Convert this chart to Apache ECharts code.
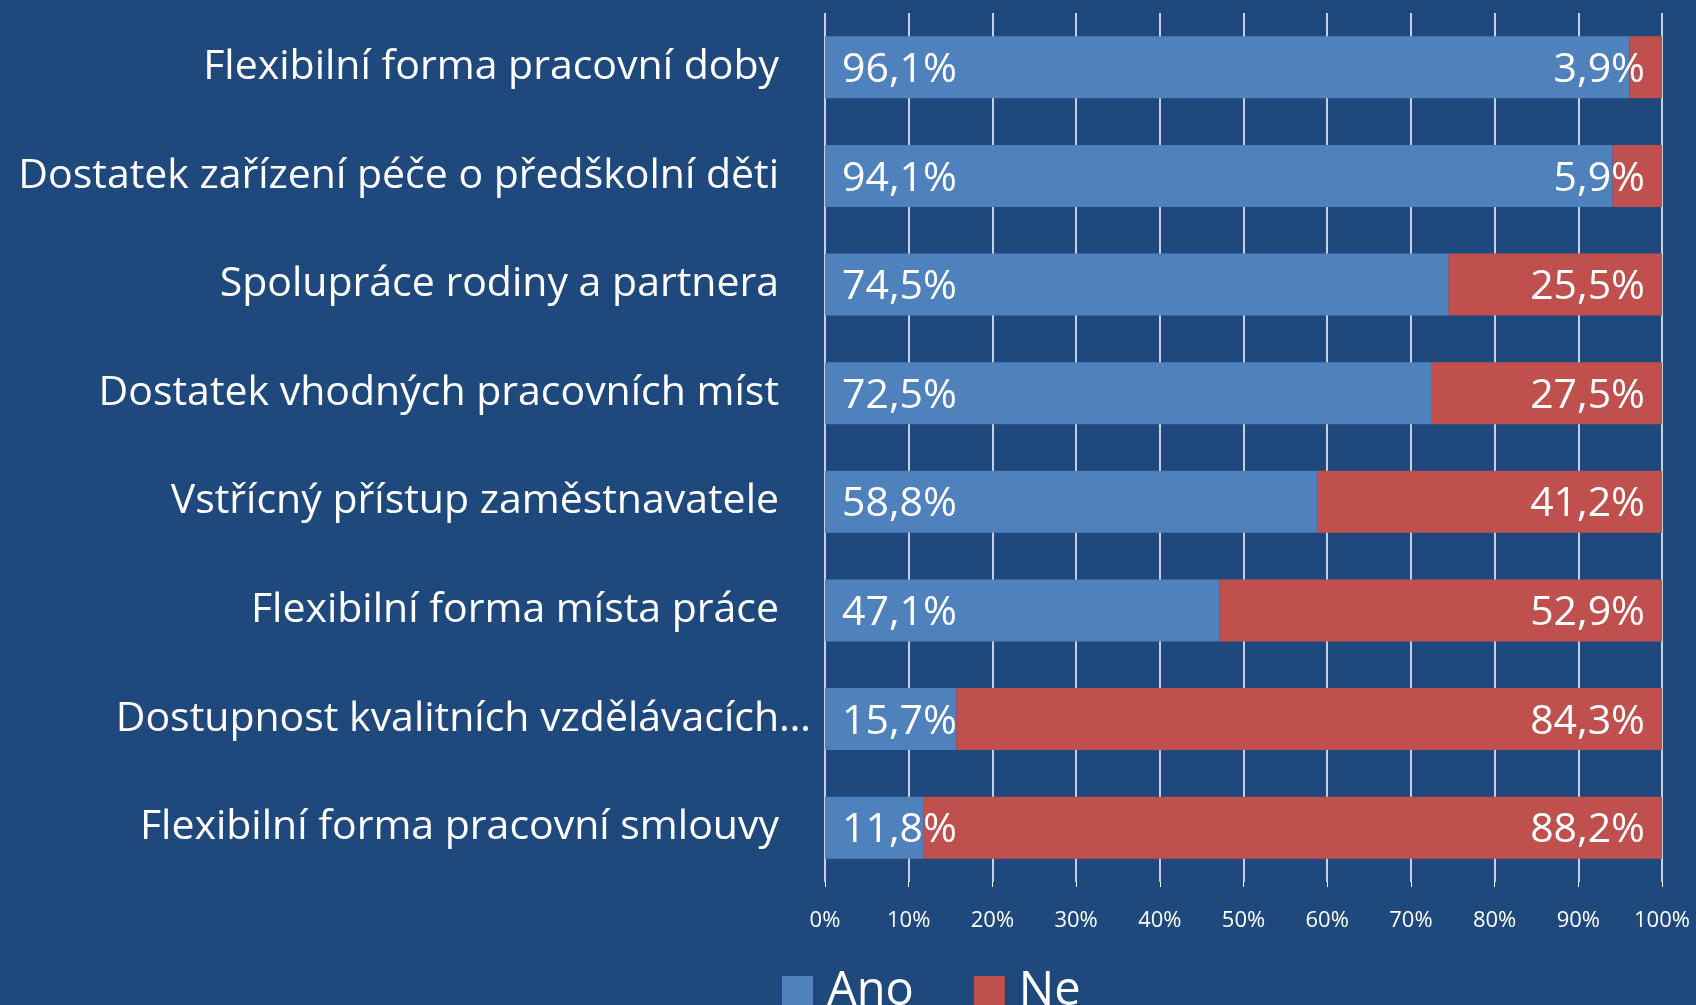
<!DOCTYPE html>
<html>
<head>
<meta charset="utf-8">
<script src="https://cdn.jsdelivr.net/npm/echarts@6/dist/echarts.min.js"></script>
<style>
  html, body { margin: 0; padding: 0; background: #1f497d; }
  #chart { width: 1696px; height: 1005px; }
</style>
</head>
<body>
<div id="chart"></div>
<script>
var categories = [
  'Flexibilní forma pracovní doby',
  'Dostatek zařízení péče o předškolní děti',
  'Spolupráce rodiny a partnera',
  'Dostatek vhodných pracovních míst',
  'Vstřícný přístup zaměstnavatele',
  'Flexibilní forma místa práce',
  'Dostupnost kvalitních vzdělávacích…',
  'Flexibilní forma pracovní smlouvy'
];
var ano = [96.1, 94.1, 74.5, 72.5, 58.8, 47.1, 15.7, 11.8];
var ne = [3.9, 5.9, 25.5, 27.5, 41.2, 52.9, 84.3, 88.2];

var fontName = 'Open Sans';

function pct(p) {
  return p.value.toFixed(1).replace('.', ',') + '%';
}

// the truncated label sits a little further right, as in the original
var yData = categories.map(function (c) {
  if (c.slice(-1) === '…') {
    return { value: c, textStyle: { padding: [6, -32, 0, 0] } };
  }
  return c;
});

var myChart = echarts.init(document.getElementById('chart'), null, { renderer: 'canvas' });

var option = {
  backgroundColor: '#1f497d',
  animation: false,
  textStyle: { fontFamily: fontName },
  grid: { left: 825, right: 34, top: 13, bottom: 123 },
  legend: {
    left: 777,
    top: 963,
    itemWidth: 31,
    itemHeight: 31,
    itemGap: 60,
    icon: 'rect',
    textStyle: { color: '#fff', fontSize: 47, fontFamily: fontName, padding: [0, 0, 0, 9] },
    data: ['Ano', 'Ne']
  },
  xAxis: {
    type: 'value',
    min: 0,
    max: 100,
    interval: 10,
    axisLine: { show: false },
    axisTick: { show: true, length: 5, lineStyle: { color: '#fff' } },
    splitLine: { show: true, lineStyle: { color: '#fff', width: 1.5 } },
    axisLabel: { color: '#fff', fontSize: 22, margin: 28, formatter: '{value}%', fontFamily: fontName }
  },
  yAxis: {
    type: 'category',
    inverse: true,
    data: yData,
    axisLine: { show: false },
    axisTick: { show: false },
    axisLabel: { color: '#fff', fontSize: 41, margin: 46, padding: [6, 0, 0, 0], fontFamily: fontName }
  },
  series: [
    {
      name: 'Ano',
      type: 'bar',
      stack: 'total',
      data: ano,
      barWidth: '57%',
      itemStyle: { color: '#4f81bd' },
      label: {
        show: true,
        position: 'insideLeft',
        distance: 17,
        offset: [0, 3],
        color: '#fff',
        fontSize: 41,
        fontFamily: fontName,
        formatter: pct
      }
    },
    {
      name: 'Ne',
      type: 'bar',
      stack: 'total',
      data: ne,
      itemStyle: { color: '#c0504d' },
      label: {
        show: true,
        position: 'insideRight',
        distance: 17,
        offset: [0, 3],
        color: '#fff',
        fontSize: 41,
        fontFamily: fontName,
        formatter: pct
      }
    }
  ]
};

myChart.setOption(option);
window.addEventListener('resize', myChart.resize);
</script>
</body>
</html>
